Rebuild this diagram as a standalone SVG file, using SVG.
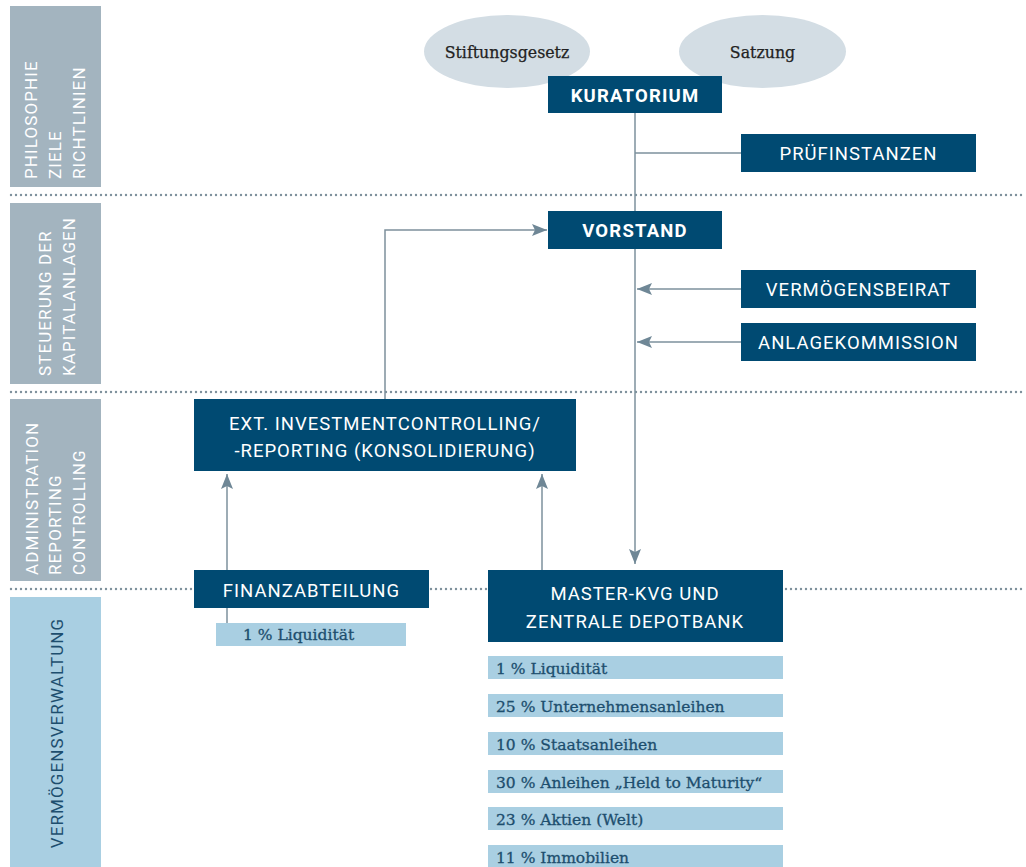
<svg xmlns="http://www.w3.org/2000/svg" width="1026" height="867" viewBox="0 0 1026 867">
<defs>
<style>
.sb{fill:#a3b4bf}
.sbl{fill:#a9cfe2}
.sbt{font-family:Roboto,"Liberation Sans",sans-serif;font-size:17px;letter-spacing:1.1px;fill:#ffffff}
.sbt2{font-family:Roboto,"Liberation Sans",sans-serif;font-size:17px;letter-spacing:1.1px;fill:#1d4e6e}
.box{fill:#004a72}
.bt{font-family:Roboto,"Liberation Sans",sans-serif;font-size:18.5px;letter-spacing:1px;fill:#ffffff;text-anchor:middle}
.btb{font-family:Roboto,"Liberation Sans",sans-serif;font-size:18.5px;font-weight:bold;letter-spacing:1.2px;fill:#ffffff;text-anchor:middle}
.ell{fill:#d3dde4}
.et{font-family:"DejaVu Serif","Liberation Serif",serif;font-size:15.8px;fill:#222222;stroke:#222222;stroke-width:0.25;text-anchor:middle}
.lb{fill:#a9cfe2}
.lt{font-family:"DejaVu Serif","Liberation Serif",serif;font-size:15.5px;fill:#1d4e6e;stroke:#1d4e6e;stroke-width:0.3}
.dot{stroke:#7f919c;stroke-width:2.4;stroke-dasharray:0 5;stroke-linecap:round;fill:none}
.con{stroke:#7d909c;stroke-width:1.5;fill:none}
</style>
<marker id="ah" viewBox="0 0 15 12" refX="15" refY="6" markerWidth="15" markerHeight="12" markerUnits="userSpaceOnUse" orient="auto">
<path d="M0,0 L15,6 L0,12 L3,6 Z" fill="#6f8796"/>
</marker>
</defs>

<g id="sidebars">
<rect class="sb" x="10" y="6" width="91" height="181"/>
<rect class="sb" x="10" y="203" width="91" height="181"/>
<rect class="sb" x="10" y="399" width="91" height="182"/>
<rect class="sbl" x="10" y="597" width="91" height="270"/>
<text class="sbt" transform="translate(37,179) rotate(-90)">PHILOSOPHIE</text>
<text class="sbt" transform="translate(61,179) rotate(-90)">ZIELE</text>
<text class="sbt" transform="translate(85,179) rotate(-90)">RICHTLINIEN</text>
<text class="sbt" transform="translate(51,376) rotate(-90)">STEUERUNG DER</text>
<text class="sbt" transform="translate(75,376) rotate(-90)">KAPITALANLAGEN</text>
<text class="sbt" transform="translate(38,575) rotate(-90)">ADMINISTRATION</text>
<text class="sbt" transform="translate(61,575) rotate(-90)">REPORTING</text>
<text class="sbt" transform="translate(85,575) rotate(-90)">CONTROLLING</text>
<text class="sbt2" text-anchor="middle" transform="translate(63,733) rotate(-90)">VERMÖGENSVERWALTUNG</text>
</g>

<g id="separators">
<line class="dot" x1="11" y1="195" x2="1026" y2="195"/>
<line class="dot" x1="11" y1="392" x2="1026" y2="392"/>
<line class="dot" x1="11" y1="589" x2="1026" y2="589"/>
</g>

<g id="connectors">
<line class="con" x1="635" y1="113" x2="635" y2="564" marker-end="url(#ah)"/>
<line class="con" x1="635" y1="153" x2="741" y2="153"/>
<line class="con" x1="741" y1="289" x2="637" y2="289" marker-end="url(#ah)"/>
<line class="con" x1="741" y1="342" x2="637" y2="342" marker-end="url(#ah)"/>
<polyline class="con" points="385,399 385,230 547,230" marker-end="url(#ah)"/>
<line class="con" x1="227" y1="570" x2="227" y2="474" marker-end="url(#ah)"/>
<line class="con" x1="542" y1="570" x2="542" y2="474" marker-end="url(#ah)"/>
<line class="con" x1="227" y1="608" x2="227" y2="623"/>
</g>

<g id="stiftungsgesetz">
<ellipse class="ell" cx="507" cy="51.5" rx="83" ry="36.5"/>
<text class="et" x="507" y="58">Stiftungsgesetz</text>
</g>
<g id="satzung">
<ellipse class="ell" cx="762.5" cy="51.5" rx="83.5" ry="36.5"/>
<text class="et" x="762.5" y="58">Satzung</text>
</g>

<g id="kuratorium">
<rect class="box" x="548" y="76" width="174" height="37"/>
<text class="btb" x="635" y="101.5">KURATORIUM</text>
</g>
<g id="pruefinstanzen">
<rect class="box" x="741" y="134" width="235" height="38"/>
<text class="bt" x="858.5" y="160">PRÜFINSTANZEN</text>
</g>
<g id="vorstand">
<rect class="box" x="548" y="211" width="174" height="38"/>
<text class="btb" x="635" y="236.5">VORSTAND</text>
</g>
<g id="vermoegensbeirat">
<rect class="box" x="741" y="270" width="235" height="38"/>
<text class="bt" x="858.5" y="296">VERMÖGENSBEIRAT</text>
</g>
<g id="anlagekommission">
<rect class="box" x="741" y="323" width="235" height="38"/>
<text class="bt" x="858.5" y="349">ANLAGEKOMMISSION</text>
</g>
<g id="investmentcontrolling">
<rect class="box" x="194" y="399" width="382" height="72"/>
<text class="bt" x="385" y="430">EXT. INVESTMENTCONTROLLING/</text>
<text class="bt" x="385" y="457">-REPORTING (KONSOLIDIERUNG)</text>
</g>
<g id="finanzabteilung">
<rect class="box" x="194" y="570" width="235" height="38"/>
<text class="bt" x="311.5" y="596.5">FINANZABTEILUNG</text>
</g>
<g id="finanz-liquiditaet">
<rect class="lb" x="216" y="623" width="190" height="23"/>
<text class="lt" x="243" y="640">1 % Liquidität</text>
</g>
<g id="master-kvg">
<rect class="box" x="488" y="570" width="295" height="72"/>
<text class="bt" x="635" y="600">MASTER-KVG UND</text>
<text class="bt" x="635" y="628">ZENTRALE DEPOTBANK</text>
</g>
<g id="allocations">
<rect class="lb" x="488" y="656" width="295" height="23"/>
<text class="lt" x="496" y="674">1 % Liquidität</text>
<rect class="lb" x="488" y="694" width="295" height="23"/>
<text class="lt" x="496" y="712">25 % Unternehmensanleihen</text>
<rect class="lb" x="488" y="732" width="295" height="23"/>
<text class="lt" x="496" y="750">10 % Staatsanleihen</text>
<rect class="lb" x="488" y="770" width="295" height="23"/>
<text class="lt" x="496" y="788">30 % Anleihen „Held to Maturity“</text>
<rect class="lb" x="488" y="807" width="295" height="23"/>
<text class="lt" x="496" y="825">23 % Aktien (Welt)</text>
<rect class="lb" x="488" y="845" width="295" height="23"/>
<text class="lt" x="496" y="863">11 % Immobilien</text>
</g>
</svg>
